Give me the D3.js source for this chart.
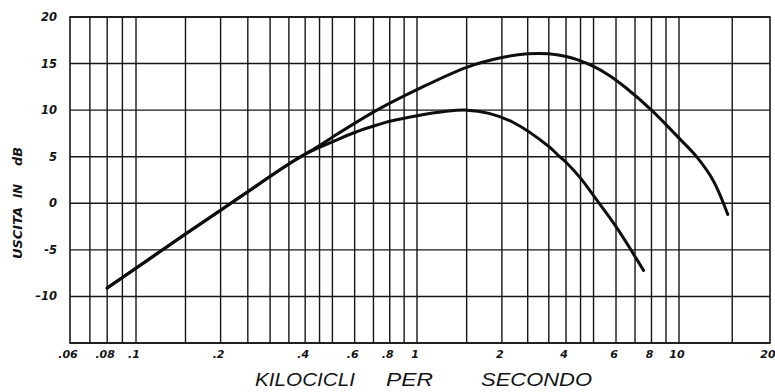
<!DOCTYPE html>
<html>
<head>
<meta charset="utf-8">
<script src="https://cdn.jsdelivr.net/npm/d3@7"></script>
<style>
  html, body { margin: 0; padding: 0; background: #fff; }
  svg { display: block; }
  text { fill: #141414; }
</style>
</head>
<body>
<svg id="chart" width="775" height="392"></svg>
<script>
// ---- data ----
const yTicks = [-15, -10, -5, 0, 5, 10, 15, 20];
const yTickLabels = ["", "\u201310", "-5", "0", "5", "10", "15", "20"];
const xTickValues = [0.06, 0.08, 0.1, 0.2, 0.4, 0.6, 0.8, 1, 2, 4, 6, 8, 10, 20];
const xTickLabels = [".06", ".08", ".1", ".2", ".4", ".6", ".8", "1", "2", "4", "6", "8", "10", "20"];
const xGridValues = [0.07, 0.08, 0.09, 0.1, 0.15, 0.2, 0.25, 0.3, 0.35, 0.4, 0.45, 0.5, 0.6, 0.7, 0.8, 0.9,
                     1, 1.5, 2, 2.5, 3, 4, 4.5, 5, 6, 7, 8, 9, 10, 15];

// upper curve (kHz, dB)
const freqUpper = [0.08, 0.15, 0.2, 0.25, 0.36, 0.45, 0.5, 0.72, 1, 1.5, 2, 2.5, 3, 4, 4.4, 5, 5.7, 6.5, 8, 10, 11.5, 13, 14.5];
const dbUpper   = [-9.1, -3.3, -0.75, 1.25, 4.45, 6.2, 7.1, 10.0, 12.2, 14.6, 15.65, 16.05, 16.05, 15.75, 15.4, 14.7, 13.7, 12.4, 10.0, 7.0, 4.9, 2.4, -1.2];

// lower curve (kHz, dB)
const freqLower = [0.08, 0.15, 0.2, 0.25, 0.36, 0.42, 0.5, 0.6, 0.72, 0.8, 1, 1.25, 1.5, 1.8, 2.2, 3, 3.6, 4, 4.5, 4.95, 6, 6.9, 7.5];
const dbLower   = [-9.1, -3.3, -0.75, 1.25, 4.45, 5.6, 6.6, 7.6, 8.4, 8.8, 9.4, 9.85, 10.0, 9.65, 8.7, 6.1, 5.0, 4.4, 2.7, 1.0, -2.5, -5.4, -7.2];

// ---- layout ----
const plot = { left: 70, right: 770, top: 17, bottom: 343 };
const W = plot.right - plot.left;
// hand-drawn paper: decades are not equal, so the log scale is piecewise
const xBreaks = [0.06, 0.1, 1, 2, 3, 4, 10, 20];
const xBreakFrac = [0, 0.0943, 0.4957, 0.617, 0.684, 0.7086, 0.870, 1];

const svg = d3.select("#chart");
const x = d3.scaleLog().domain(xBreaks).range(xBreakFrac.map(f => plot.left + f * W));
const y = d3.scaleLinear().domain([-15, 20]).range([plot.bottom, plot.top]);

const ink = "#161616";

// grid
const g = svg.append("g");
g.selectAll("line.v").data(xGridValues).enter().append("line")
  .attr("x1", d => x(d)).attr("x2", d => x(d))
  .attr("y1", plot.top).attr("y2", plot.bottom)
  .attr("stroke", ink).attr("stroke-width", 1.4);
g.selectAll("line.h").data(yTicks).enter().append("line")
  .attr("x1", plot.left).attr("x2", plot.right)
  .attr("y1", d => y(d)).attr("y2", d => y(d))
  .attr("stroke", ink).attr("stroke-width", 1.4);
g.append("rect")
  .attr("x", plot.left).attr("y", plot.top)
  .attr("width", W).attr("height", plot.bottom - plot.top)
  .attr("fill", "none").attr("stroke", ink).attr("stroke-width", 1.6);

// y tick labels
svg.append("g").selectAll("text").data(yTicks).enter().append("text")
  .attr("x", 57).attr("y", d => y(d) + 4)
  .attr("text-anchor", "end")
  .attr("font-family", "DejaVu Sans, sans-serif")
  .attr("font-style", "italic").attr("font-weight", "bold")
  .attr("font-size", 11.5)
  .text((d, i) => yTickLabels[i]);

// x tick labels
svg.append("g").selectAll("text").data(xTickValues).enter().append("text")
  .attr("x", d => x(d) - 2).attr("y", 358)
  .attr("text-anchor", "middle")
  .attr("font-family", "DejaVu Sans, sans-serif")
  .attr("font-style", "italic").attr("font-weight", "bold")
  .attr("font-size", 11)
  .text((d, i) => xTickLabels[i]);

// curves
const line = d3.line().x(d => x(d[0])).y(d => y(d[1])).curve(d3.curveCatmullRom.alpha(0.5));
const upper = freqUpper.map((f, i) => [f, dbUpper[i]]);
const lower = freqLower.map((f, i) => [f, dbLower[i]]);
[upper, lower].forEach(s => {
  svg.append("path").datum(s).attr("d", line)
    .attr("fill", "none").attr("stroke", "#0e0e0e")
    .attr("stroke-width", 3).attr("stroke-linecap", "round").attr("stroke-linejoin", "round");
});

// x axis title
const xTitle = [["KILOCICLI", 255, 100], ["PER", 386, 47], ["SECONDO", 481, 111]];
svg.append("g").selectAll("text").data(xTitle).enter().append("text")
  .attr("x", d => d[1]).attr("y", 386)
  .attr("font-family", "Liberation Sans, Arial, sans-serif")
  .attr("font-style", "italic")
  .attr("font-size", 19)
  .attr("textLength", d => d[2]).attr("lengthAdjust", "spacingAndGlyphs")
  .text(d => d[0]);

// y axis title (rotated)
const yTitle = [["USCITA", 259, 52], ["IN", 198, 14], ["dB", 166, 19]];
svg.append("g").selectAll("text").data(yTitle).enter().append("text")
  .attr("transform", d => `translate(22, ${d[1]}) rotate(-90)`)
  .attr("font-family", "DejaVu Sans, sans-serif")
  .attr("font-style", "italic").attr("font-weight", "bold")
  .attr("font-size", 12)
  .attr("textLength", d => d[2]).attr("lengthAdjust", "spacingAndGlyphs")
  .text(d => d[0]);
</script>
</body>
</html>
